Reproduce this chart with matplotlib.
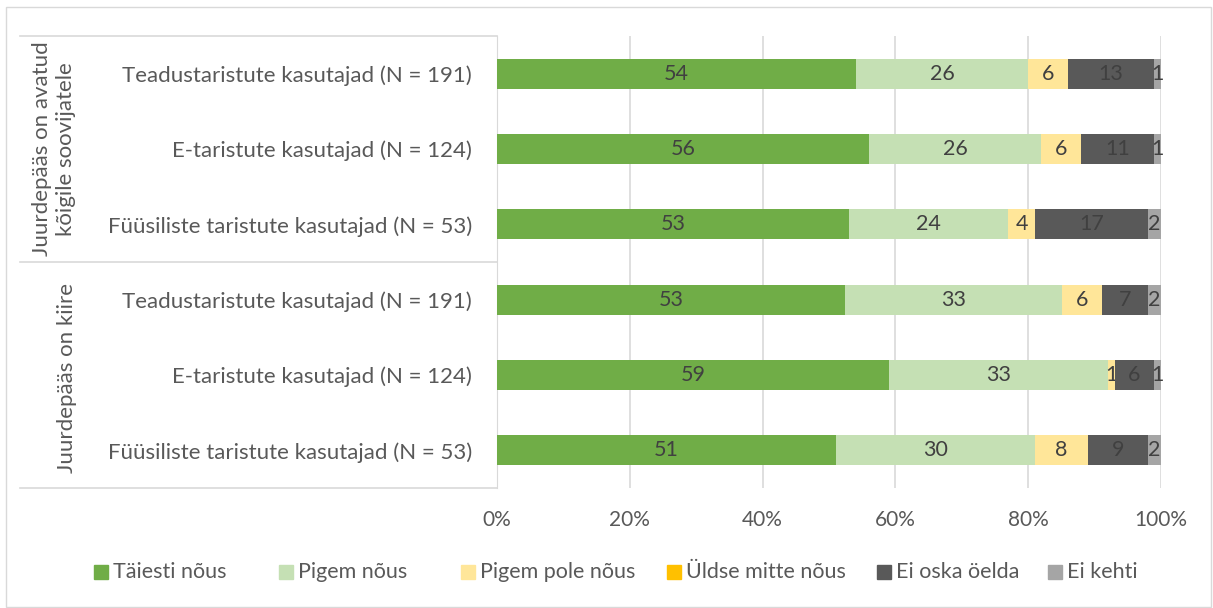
import numpy as np
import matplotlib.pyplot as plt
from matplotlib.lines import Line2D
from matplotlib.patches import Rectangle

plt.rcParams['font.family'] = ['Lato', 'DejaVu Sans']

categories = [
    'Teadustaristute kasutajad (N = 191)',
    'E-taristute kasutajad (N = 124)',
    'Füüsiliste taristute kasutajad (N = 53)',
    'Teadustaristute kasutajad (N = 191)',
    'E-taristute kasutajad (N = 124)',
    'Füüsiliste taristute kasutajad (N = 53)',
]
groups = ['Juurdepääs on avatud\nkõigile soovijatele', 'Juurdepääs on kiire']

series = ['Täiesti nõus', 'Pigem nõus', 'Pigem pole nõus',
          'Üldse mitte nõus', 'Ei oska öelda', 'Ei kehti']
taiesti = [54, 56, 53, 53, 59, 51]
pigem = [26, 26, 24, 33, 33, 30]
pigem_pole = [6, 6, 4, 6, 1, 8]
uldse = [0, 0, 0, 0, 0, 0]
ei_oska = [13, 11, 17, 7, 6, 9]
ei_kehti = [1, 1, 2, 2, 1, 2]
colors = ['#70AD47', '#C5E0B4', '#FFE699', '#FFC000', '#595959', '#A5A5A5']

W, H = 1213, 608
data = np.array([taiesti, pigem, pigem_pole, uldse, ei_oska, ei_kehti], dtype=float)
share = data / data.sum(axis=0) * 100

fig = plt.figure(figsize=(W / 100, H / 100), dpi=100)
ax = fig.add_axes([497 / W, 1 - 488 / H, 664 / W, 452 / H])

y = np.arange(len(categories))
left = np.zeros(len(categories))
for i, name in enumerate(series):
    bars = ax.barh(y, share[i], left=left, height=0.4, color=colors[i],
                   label=name, zorder=3)
    labels = [f'{v:.0f}' if v > 0 else '' for v in data[i]]
    ax.bar_label(bars, labels=labels, label_type='center', color='#404040',
                 fontsize=15.5)
    left += share[i]

ax.set_xlim(0, 100)
ax.set_ylim(len(categories) - 0.5, -0.5)
ax.set_xticks(np.arange(0, 101, 20))
ax.set_xticklabels([f'{t}%' for t in range(0, 101, 20)])
ax.set_yticks(y)
ax.set_yticklabels(categories)
ax.tick_params(axis='both', length=0, labelcolor='#595959')
ax.tick_params(axis='x', pad=16, labelsize=15)
ax.tick_params(axis='y', pad=18, labelsize=16)
ax.grid(axis='x', color='#D9D9D9', linewidth=1.2, zorder=0)
for s in ['top', 'right', 'bottom']:
    ax.spines[s].set_visible(False)
ax.spines['left'].set_color('#D9D9D9')

# group table lines
for yy in [36, 262, 488]:
    fig.add_artist(Line2D([20 / W, 497 / W], [1 - yy / H] * 2,
                          color='#D9D9D9', linewidth=1.2))
fig.text(54 / W, 1 - 149 / H, groups[0], rotation=90, ha='center',
         va='center', fontsize=16, color='#595959', linespacing=1.2)
fig.text(67 / W, 1 - 378 / H, groups[1], rotation=90, ha='center',
         va='center', fontsize=16, color='#595959')

# outer border
fig.add_artist(Rectangle((6 / W, 0.002), 1 - 8 / W, 1 - 8 / H,
                         transform=fig.transFigure, fill=False,
                         edgecolor='#D9D9D9', linewidth=1))

# legend entries
legend_x = [94, 279, 461, 667, 877, 1048]
legend_y = 572
for name, c, lx in zip(series, colors, legend_x):
    fig.add_artist(Rectangle((lx / W, 1 - (legend_y + 7) / H), 14 / W, 14 / H,
                             transform=fig.transFigure, color=c))
    fig.text((lx + 19) / W, 1 - legend_y / H, name, ha='left', va='center',
             fontsize=15.5, color='#595959')

fig.savefig('out.png', dpi=100)
